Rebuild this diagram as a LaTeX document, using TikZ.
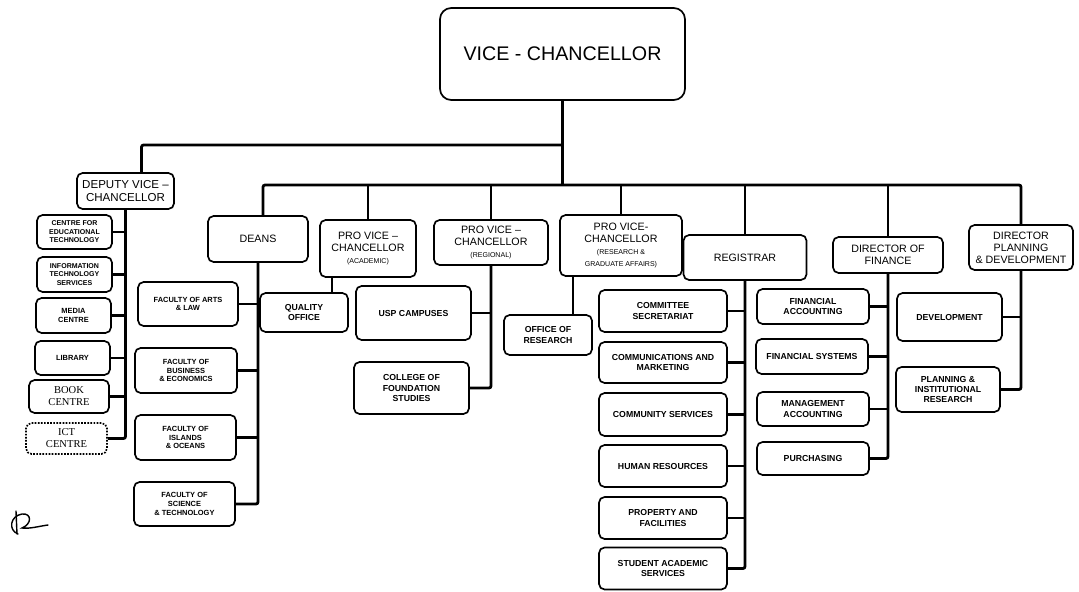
\documentclass[tikz,border=0pt]{standalone}
\usepackage{fontspec}
\setmainfont{Liberation Sans}
\newfontfamily\bookfont{Liberation Serif}
\usetikzlibrary{calc}
\tikzset{
  sz/.style 2 args={
    minimum width=#1*0.025cm, minimum height=#2*0.025cm
  },
  officebox/.style={
    draw, rounded corners=4pt, line width=1.2pt, align=center,
    inner sep=1pt, font=\fontsize{6.2}{7.2}\selectfont\bfseries
  },
  smallbox/.style={
    officebox, font=\fontsize{5.3}{6.3}\selectfont\bfseries
  },
  headbox/.style={
    officebox, font=\fontsize{7.6}{8.6}\selectfont
  },
  link/.style={
    line width=2pt, rounded corners=1.5pt
  },
  stub/.style={
    line width=1.8pt
  },
}
\newcommand{\unitnote}[1]{{\fontsize{5}{6}\selectfont #1}}

\begin{document}
\begin{tikzpicture}[x=0.025cm, y=-0.025cm]
\useasboundingbox (0,0) rectangle (1079,592);

% ---- Vice-Chancellor ----
\node[headbox, sz={245}{92}, rounded corners=8pt,
      font=\fontsize{14}{16}\selectfont] (vc) at (562.5,54)
  {VICE - CHANCELLOR};

% ---- Deputy Vice-Chancellor ----
\node[headbox, sz={97}{36}, font=\fontsize{8.2}{9.4}\selectfont] (dvc)
  at (125.5,191) {DEPUTY VICE --\\CHANCELLOR};
\node[smallbox, sz={75}{34}, font=\fontsize{5}{6}\selectfont\bfseries]
  (cet) at (74.5,232) {CENTRE FOR\\EDUCATIONAL\\TECHNOLOGY};
\node[smallbox, sz={75}{35}, font=\fontsize{5}{6}\selectfont\bfseries]
  (its) at (74.5,274.5) {INFORMATION\\TECHNOLOGY\\SERVICES};
\node[smallbox, sz={75}{35}] (media) at (73.5,315.5) {MEDIA\\CENTRE};
\node[smallbox, sz={75}{34}] (library) at (72.5,358) {LIBRARY};
\node[smallbox, sz={80}{33}, font=\bookfont\fontsize{7.5}{8.5}\selectfont]
  (book) at (69,396.5) {BOOK\\CENTRE};
\node[smallbox, sz={81}{31}, densely dotted,
      font=\bookfont\fontsize{7.5}{8.5}\selectfont] (ict) at (66.5,438.5)
  {ICT\\CENTRE};

% ---- Deans ----
\node[headbox, sz={100}{46}] (deans) at (258,239) {DEANS};
\node[smallbox, sz={100}{44}] (fal) at (188,304)
  {FACULTY OF ARTS\\\& LAW};
\node[smallbox, sz={102}{45}] (fbe) at (186,370.5)
  {FACULTY OF\\BUSINESS\\\& ECONOMICS};
\node[smallbox, sz={101}{45}] (fio) at (185.5,437.5)
  {FACULTY OF\\ISLANDS\\\& OCEANS};
\node[smallbox, sz={101}{44}] (fst) at (184.5,504)
  {FACULTY OF\\SCIENCE\\\& TECHNOLOGY};

% ---- Pro Vice-Chancellor (Academic) ----
\node[headbox, sz={96}{57}] (pvca) at (368,248.5)
  {PRO VICE --\\CHANCELLOR\\\unitnote{(ACADEMIC)}};
\node[officebox, sz={88}{39}] (qual) at (304,312.5) {QUALITY\\OFFICE};

% ---- Pro Vice-Chancellor (Regional) ----
\node[headbox, sz={114}{45}] (pvcr) at (491,242.5)
  {PRO VICE --\\CHANCELLOR\\\unitnote{(REGIONAL)}};
\node[officebox, sz={115}{54}] (usp) at (413.5,313) {USP CAMPUSES};
\node[officebox, sz={115}{52}] (cfs) at (411.5,388)
  {COLLEGE OF\\FOUNDATION\\STUDIES};

% ---- Pro Vice-Chancellor (Research) ----
\node[headbox, sz={122}{61}] (pvcg) at (621,245.5)
  {PRO VICE-\\CHANCELLOR\\\unitnote{(RESEARCH \&}\\\unitnote{GRADUATE AFFAIRS)}};
\node[officebox, sz={88}{40}] (ores) at (548,335) {OFFICE OF\\RESEARCH};

% ---- Registrar ----
\node[headbox, sz={123}{45}] (reg) at (745,257.5) {REGISTRAR};
\node[officebox, sz={128}{42}] (cs) at (663,311) {COMMITTEE\\SECRETARIAT};
\node[officebox, sz={128}{41}] (cm) at (663,362.5)
  {COMMUNICATIONS AND\\MARKETING};
\node[officebox, sz={128}{43}] (com) at (663,414.5) {COMMUNITY SERVICES};
\node[officebox, sz={128}{42}] (hr) at (663,466) {HUMAN RESOURCES};
\node[officebox, sz={128}{42}] (pf) at (663,518) {PROPERTY AND\\FACILITIES};
\node[officebox, sz={128}{42}] (sas) at (663,568.5)
  {STUDENT ACADEMIC\\SERVICES};

% ---- Director of Finance ----
\node[headbox, sz={110}{36}] (fin) at (888,255) {DIRECTOR OF\\FINANCE};
\node[officebox, sz={112}{35}] (fa) at (813,306.5) {FINANCIAL\\ACCOUNTING};
\node[officebox, sz={112}{35}] (fs) at (812,356.5) {FINANCIAL SYSTEMS};
\node[officebox, sz={112}{34}] (ma) at (813,409) {MANAGEMENT\\ACCOUNTING};
\node[officebox, sz={112}{33}] (pur) at (813,458.5) {PURCHASING};

% ---- Director Planning & Development ----
\node[headbox, sz={104}{45}] (dpd) at (1021,247.5)
  {DIRECTOR\\PLANNING\\\& DEVELOPMENT};
\node[officebox, sz={105}{48}] (dev) at (949.5,317) {DEVELOPMENT};
\node[officebox, sz={104}{45}] (pir) at (948,389.5)
  {PLANNING \&\\INSTITUTIONAL\\RESEARCH};

% ---- Lines ----
\coordinate (split) at (562.5,145);
\coordinate (bus) at (562.5,185);
\draw[link] (vc.south) -- (bus);
\draw[link] (split) -| ([xshift=0.4cm]dvc.north);
\draw[link] ([xshift=0.125cm]deans.north) |- (bus) -| (dpd.north);
\foreach \n in {pvca,pvcr,pvcg,reg,fin}
  \draw[link] (bus -| \n.north) -- (\n.north);

% dvc units
\draw[link] (dvc.south) |- (ict.east);
\foreach \n in {cet,its,media,library,book}
  \draw[stub] (\n.east) -- (\n.east -| dvc.south);

% faculties
\draw[link] (deans.south) |- (fst.east);
\foreach \n in {fal,fbe,fio}
  \draw[stub] (\n.east) -- (\n.east -| deans.south);

% academic, regional, research
\draw[link] ([xshift=-0.9cm]pvca.south) --
  ([xshift=-0.9cm]pvca.south |- qual.north);
\draw[link] (pvcr.south) |- (cfs.east);
\draw[stub] (usp.east) -- (usp.east -| pvcr.south);
\draw[link] ([xshift=-1.2cm]pvcg.south) --
  ([xshift=-1.2cm]pvcg.south |- ores.north);

% registrar units
\draw[link] (reg.south) |- (sas.east);
\foreach \n in {cs,cm,com,hr,pf}
  \draw[stub] (\n.east) -- (\n.east -| reg.south);

% finance units
\draw[link] (fin.south) |- (pur.east);
\foreach \n in {fa,fs,ma}
  \draw[stub] (\n.east) -- (\n.east -| fin.south);

% planning units
\draw[link] (dpd.south) |- (pir.east);
\draw[stub] (dev.east) -- (dev.east -| dpd.south);

% initials in the margin
\draw[line width=1pt, line cap=round] (16,511) -- (17,534);
\draw[line width=1pt, line cap=round] (18,534) .. controls (8,530) and (10,516) .. (22,514)
  .. controls (32,513) and (32,524) .. (22,528) .. controls (30,529) and (40,526) .. (48,525);

\end{tikzpicture}
\end{document}
